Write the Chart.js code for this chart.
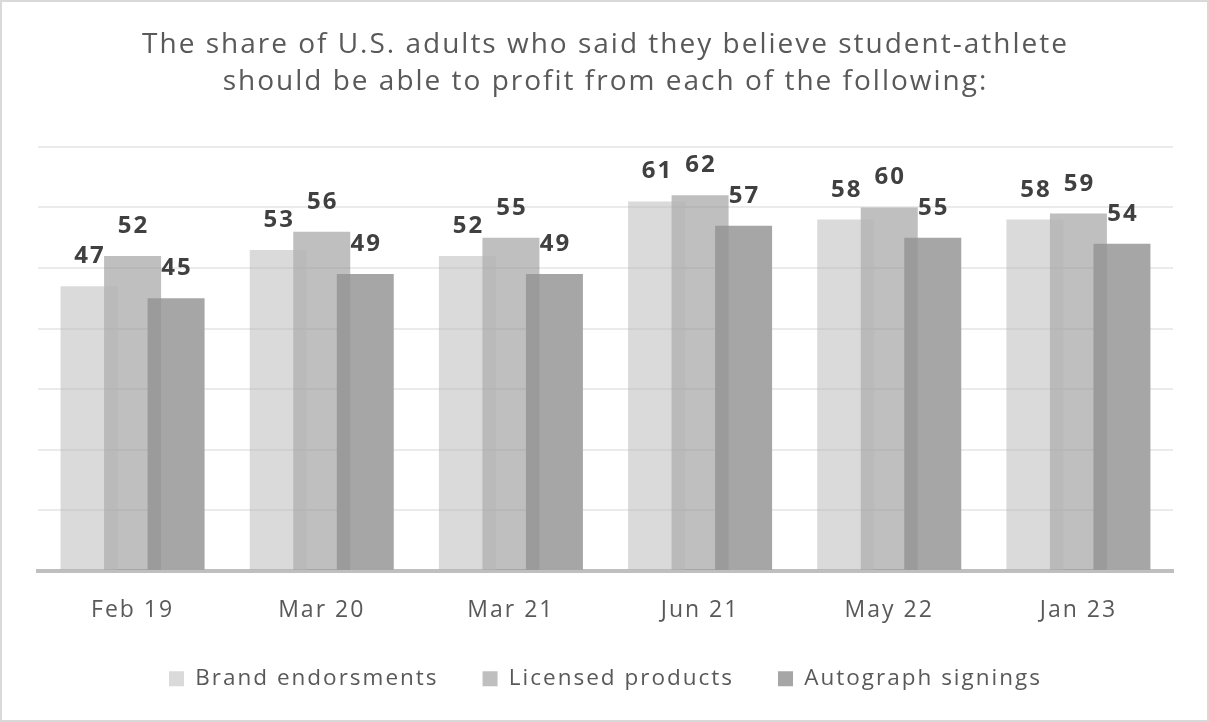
<!DOCTYPE html>
<html lang="en">
<head>
  <meta charset="UTF-8">
  <title>Student-athlete profit</title>
  <script src="https://cdn.jsdelivr.net/npm/chart.js"></script>
  <style>
    html, body { margin: 0; padding: 0; background: #fff; }
    .frame {
      width: 1209px; height: 722px;
      box-sizing: border-box;
      border: 2px solid #d9d9d9;
      position: relative;
    }
    .frame canvas { display: block; }
  </style>
</head>
<body>
  <div class="frame">
    <canvas id="chart" width="1205" height="718"></canvas>
  </div>

  <script>
    const periods = ['Feb 19', 'Mar 20', 'Mar 21', 'Jun 21', 'May 22', 'Jan 23'];
    const brandEndorsements = [47, 53, 52, 61, 58, 58];
    const licensedProducts = [52, 56, 55, 62, 60, 59];
    const autographSignings = [45, 49, 49, 57, 55, 54];
    const seriesNames = ['Brand endorsments', 'Licensed products', 'Autograph signings'];
    const titleLines = [
      'The share of U.S. adults who said they believe student-athlete',
      'should be able to profit from each of the following:'
    ];

    const FONT = "'Open Sans', 'Noto Sans', sans-serif";

    // the original text is set wide, so space every glyph a little
    const spacing = {
      id: 'spacing',
      beforeUpdate(chart) { chart.ctx.letterSpacing = '2px'; },
      beforeDraw(chart) { chart.ctx.letterSpacing = '2px'; },
      // legend sits closer to the axis labels than chart.js puts it
      afterLayout(chart) { chart.legend.top -= 19; chart.legend.bottom -= 19; }
    };

    // value labels above each bar
    const barLabels = {
      id: 'barLabels',
      afterDatasetsDraw(chart) {
        const ctx = chart.ctx;
        ctx.save();
        ctx.font = 'bold 24px ' + FONT;
        ctx.fillStyle = '#404040';
        ctx.textAlign = 'center';
        ctx.textBaseline = 'alphabetic';
        chart.data.datasets.forEach((ds, i) => {
          const meta = chart.getDatasetMeta(i);
          meta.data.forEach((bar, j) => {
            ctx.fillText(ds.data[j], bar.x + 1, bar.y - 23);
          });
        });
        ctx.restore();
      }
    };

    new Chart(document.getElementById('chart'), {
      type: 'bar',
      data: {
        labels: periods,
        datasets: [
          { label: seriesNames[0], data: brandEndorsements, backgroundColor: 'rgba(181,181,181,0.5)' },
          { label: seriesNames[1], data: licensedProducts, backgroundColor: 'rgba(148,148,148,0.6)' },
          { label: seriesNames[2], data: autographSignings, backgroundColor: 'rgb(166,166,166)' }
        ]
      },
      options: {
        responsive: false,
        animation: false,
        categoryPercentage: 0.69,
        barPercentage: 1.31,
        layout: { padding: { left: 36, right: 34, top: 0, bottom: 1 } },
        plugins: {
          title: {
            display: true,
            text: titleLines,
            color: '#595959',
            font: { family: FONT, size: 28, weight: 'normal', lineHeight: 1.32 },
            padding: { top: 25, bottom: 46 }
          },
          legend: {
            position: 'bottom',
            labels: {
              color: '#595959',
              font: { family: FONT, size: 22.5 },
              boxWidth: 15,
              boxHeight: 15,
              padding: 44
            }
          },
          tooltip: { enabled: false }
        },
        scales: {
          x: {
            grid: { display: false },
            border: { color: '#bfbfbf', width: 4 },
            ticks: { color: '#595959', font: { family: FONT, size: 23 }, padding: 18 }
          },
          y: {
            min: 0,
            max: 70,
            ticks: { display: false, stepSize: 10 },
            grid: { color: '#ebebeb', lineWidth: 2, drawTicks: false },
            border: { display: false }
          }
        }
      },
      plugins: [spacing, barLabels]
    });
  </script>
</body>
</html>
